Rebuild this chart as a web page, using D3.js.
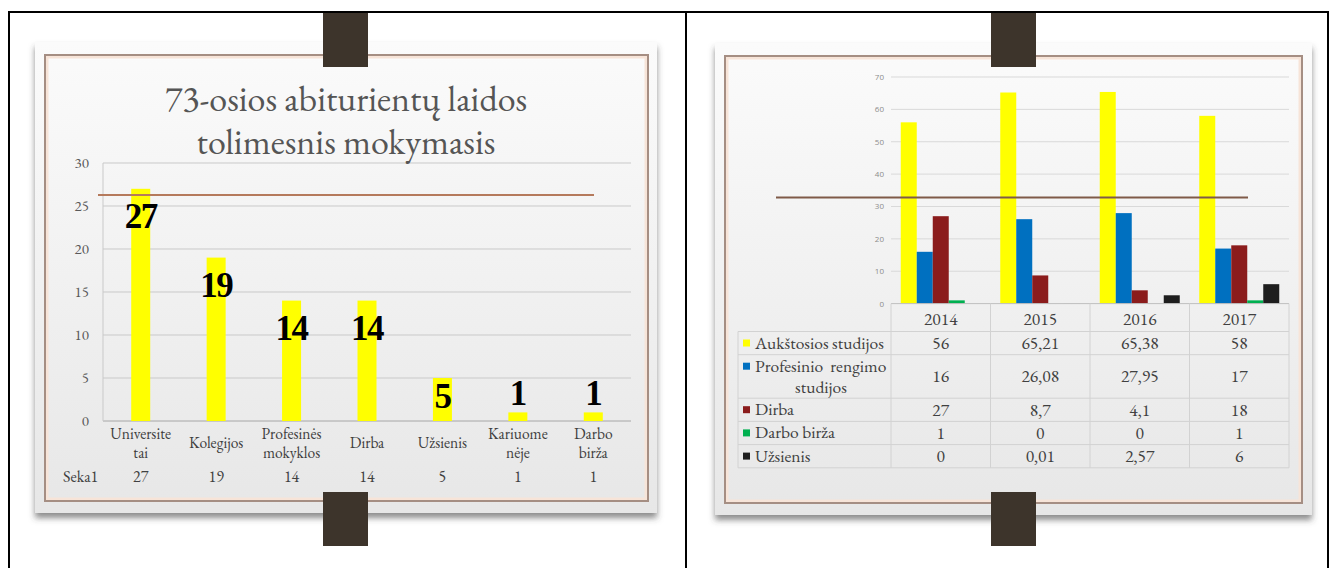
<!DOCTYPE html>
<html><head><meta charset="utf-8">
<script src="https://cdn.jsdelivr.net/npm/d3@7"></script>
<style>body{margin:0;background:#fff;} svg{display:block;}</style>
</head><body><svg id="c" width="1336" height="568"></svg>
<script>
// ---------- data ----------
const leftTitle = ["73-osios abiturientų laidos", "tolimesnis mokymasis"];
const leftCategories = ["Universitetai", "Kolegijos", "Profesinės mokyklos", "Dirba", "Užsienis", "Kariuomenėje", "Darbo birža"];
const leftCategoryLines = [["Universite", "tai"], ["Kolegijos"], ["Profesinės", "mokyklos"], ["Dirba"], ["Užsienis"], ["Kariuome", "nėje"], ["Darbo", "birža"]];
const leftValues = [27, 19, 14, 14, 5, 1, 1];
const leftSeriesName = "Seka1";
const leftTicks = [0, 5, 10, 15, 20, 25, 30];

const years = ["2014", "2015", "2016", "2017"];
const seriesNames = ["Aukštosios studijos", "Profesinio rengimo studijos", "Dirba", "Darbo birža", "Užsienis"];
const seriesLabelLines = [["Aukštosios studijos"], ["Profesinio  rengimo", "studijos"], ["Dirba"], ["Darbo birža"], ["Užsienis"]];
const aukstosios = [56, 65.21, 65.38, 58];
const profesinio = [16, 26.08, 27.95, 17];
const dirba = [27, 8.7, 4.1, 18];
const darboBirza = [1, 0, 0, 1];
const uzsienis = [0, 0.01, 2.57, 6];
const seriesColors = ["#ffff00", "#0070c0", "#8b1c1c", "#00b050", "#1e1e1e"];
const rightTicks = [0, 10, 20, 30, 40, 50, 60, 70];

const rightSeries = [aukstosios, profesinio, dirba, darboBirza, uzsienis];

// ---------- setup ----------
const GAR = '"EB Garamond", "Liberation Serif", serif';
const TIMES = '"Liberation Serif", "Tinos", serif';
const SANS = '"Open Sans", "DejaVu Sans", sans-serif';
const svg = d3.select("#c");
const defs = svg.append("defs");
const grad = defs.append("linearGradient").attr("id", "slideBg").attr("x1", 0).attr("y1", 0).attr("x2", 0).attr("y2", 1);
grad.append("stop").attr("offset", "0%").attr("stop-color", "#fbfbfb");
grad.append("stop").attr("offset", "100%").attr("stop-color", "#e7e7e7");
const f = defs.append("filter").attr("id", "shadow").attr("x", "-5%").attr("y", "-5%").attr("width", "110%").attr("height", "115%");
f.append("feDropShadow").attr("dx", 0).attr("dy", 5).attr("stdDeviation", 3).attr("flood-color", "#404040").attr("flood-opacity", 0.6);

// outer table borders
const border = svg.append("g").attr("stroke", "#000").attr("stroke-width", 2);
border.append("line").attr("x1", 8).attr("x2", 1329).attr("y1", 12).attr("y2", 12);
border.append("line").attr("x1", 9).attr("x2", 9).attr("y1", 11).attr("y2", 568);
border.append("line").attr("x1", 686).attr("x2", 686).attr("y1", 11).attr("y2", 568);
border.append("line").attr("x1", 1328).attr("x2", 1328).attr("y1", 11).attr("y2", 568);

function slide(bx, by, bw, bh, fx, fy, fw, fh) {
  svg.append("rect").attr("x", bx).attr("y", by).attr("width", bw).attr("height", bh)
    .attr("fill", "url(#slideBg)").attr("filter", "url(#shadow)");
  svg.append("rect").attr("x", fx + 2).attr("y", fy + 2).attr("width", fw - 4).attr("height", fh - 4)
    .attr("fill", "none").attr("stroke", "#f7e4d8").attr("stroke-width", 3);
  svg.append("rect").attr("x", fx).attr("y", fy).attr("width", fw).attr("height", fh)
    .attr("fill", "none").attr("stroke", "#a58e83").attr("stroke-width", 2);
}
slide(35, 42, 622, 471, 45, 55, 603, 446);
slide(715, 43, 597, 472, 725, 56, 577, 447);

// ---------- left chart ----------
const L = svg.append("g");
const yL = d3.scaleLinear().domain([0, 30]).range([421, 163]);
const xL = d3.scaleBand().domain(leftCategories).range([103, 631]).padding(0);

L.append("g").selectAll("line").data(leftTicks).join("line")
  .attr("x1", 103).attr("x2", 631).attr("y1", d => yL(d)).attr("y2", d => yL(d))
  .attr("stroke", d => d === 0 ? "#a6a6a6" : "#c9c9c9").attr("stroke-width", 1);
L.append("line").attr("x1", 103).attr("x2", 103).attr("y1", yL(30)).attr("y2", yL(0)).attr("stroke", "#c9c9c9");
L.append("g").selectAll("text").data(leftTicks).join("text")
  .attr("x", 89).attr("y", d => yL(d) + 5).attr("text-anchor", "end")
  .style("font-family", GAR).attr("font-size", 15).attr("fill", "#595959").text(d => d);

const bw = 19;
L.append("g").selectAll("rect").data(leftValues).join("rect")
  .attr("x", (d, i) => xL(leftCategories[i]) + xL.bandwidth() / 2 - bw / 2)
  .attr("y", d => yL(d)).attr("width", bw).attr("height", d => yL(0) - yL(d))
  .attr("fill", "#ffff00");

// decorative brown line (slide ornament)
L.append("line").attr("x1", 98).attr("x2", 594).attr("y1", 195).attr("y2", 195)
  .attr("stroke", "#b57a5c").attr("stroke-width", 2);

L.append("g").selectAll("text").data(leftValues).join("text")
  .attr("x", (d, i) => xL(leftCategories[i]) + xL.bandwidth() / 2)
  .attr("y", d => (yL(0) - yL(d)) < 30 ? yL(d) - 7 : Math.min(yL(d) + 39, yL(0) - 13))
  .attr("text-anchor", "middle").attr("font-weight", "bold").style("font-family", TIMES)
  .attr("font-size", 35).attr("fill", "#000").attr("letter-spacing", -1.5).text(d => d);

// title
L.append("g").selectAll("text").data(leftTitle).join("text")
  .attr("x", 346).attr("y", (d, i) => 111 + i * 43).attr("text-anchor", "middle")
  .style("font-family", GAR).attr("font-size", 36).attr("fill", "#555555").text(d => d);

// category labels
leftCategoryLines.forEach((lines, i) => {
  const cx = xL(leftCategories[i]) + xL.bandwidth() / 2;
  lines.forEach((t, j) => {
    L.append("text").attr("x", cx).attr("y", lines.length === 1 ? 448 : 439 + j * 19)
      .attr("text-anchor", "middle").style("font-family", GAR).attr("font-size", 15.5)
      .attr("fill", "#404040").text(t);
  });
});
L.append("text").attr("x", 63).attr("y", 482).style("font-family", GAR).attr("font-size", 16)
  .attr("fill", "#404040").text(leftSeriesName);
L.append("g").selectAll("text").data(leftValues).join("text")
  .attr("x", (d, i) => xL(leftCategories[i]) + xL.bandwidth() / 2).attr("y", 482)
  .attr("text-anchor", "middle").style("font-family", GAR).attr("font-size", 16)
  .attr("fill", "#404040").text(d => d);

// ---------- right chart ----------
const R = svg.append("g");
const yR = d3.scaleLinear().domain([0, 70]).range([303.6, 77]);
const xR = d3.scaleBand().domain(years).range([891, 1289]).padding(0);
const gw = 80;
const x1 = d3.scaleBand().domain(seriesNames)
  .range([(xR.bandwidth() - gw) / 2, (xR.bandwidth() + gw) / 2]).padding(0);

R.append("g").selectAll("line").data(rightTicks.filter(d => d > 0)).join("line")
  .attr("x1", 891).attr("x2", 1289).attr("y1", d => yR(d)).attr("y2", d => yR(d))
  .attr("stroke", "#d9d9d9");
R.append("g").selectAll("text").data(rightTicks).join("text")
  .attr("x", 884).attr("y", d => yR(d) + 3).attr("text-anchor", "end").style("font-family", SANS)
  .attr("font-size", 8).attr("fill", "#8c8c8c").text(d => d);

rightSeries.forEach((vals, s) => {
  R.append("g").selectAll("rect").data(vals).join("rect")
    .attr("x", (d, i) => xR(years[i]) + x1(seriesNames[s]))
    .attr("y", d => yR(d)).attr("width", x1.bandwidth()).attr("height", d => yR(0) - yR(d))
    .attr("fill", seriesColors[s]);
});

R.append("line").attr("x1", 776).attr("x2", 1248).attr("y1", 197.5).attr("y2", 197.5)
  .attr("stroke", "#7f5a48").attr("stroke-width", 2);

// data table
const headerTop = 303.6, headerBottom = 331.5;
const rowHeights = seriesLabelLines.map(l => l.length === 1 ? 23.2 : 43.5);
const rowTops = [];
let acc = headerBottom;
rowHeights.forEach(h => { rowTops.push(acc); acc += h; });
const tableBottom = acc;
const T = R.append("g");
const gridC = "#d2d2d2";
T.append("line").attr("x1", 891).attr("x2", 1289).attr("y1", headerTop).attr("y2", headerTop).attr("stroke", "#bfbfbf");
[headerBottom, ...rowTops.slice(1), tableBottom].forEach(y => {
  T.append("line").attr("x1", 738).attr("x2", 1289).attr("y1", y).attr("y2", y).attr("stroke", gridC);
});
T.append("line").attr("x1", 738).attr("x2", 738).attr("y1", headerBottom).attr("y2", tableBottom).attr("stroke", gridC);
years.concat(["end"]).forEach((yv, i) => {
  const x = i < years.length ? xR(yv) : 1289;
  T.append("line").attr("x1", x).attr("x2", x).attr("y1", headerTop).attr("y2", tableBottom).attr("stroke", gridC);
});
T.append("g").selectAll("text").data(years).join("text")
  .attr("x", d => xR(d) + xR.bandwidth() / 2).attr("y", headerTop + 21)
  .attr("text-anchor", "middle").style("font-family", GAR).attr("font-size", 17.5).attr("fill", "#404040").text(d => d);

const fmt = v => String(v).replace(".", ",");
rightSeries.forEach((vals, s) => {
  const top = rowTops[s], h = rowHeights[s];
  const lines = seriesLabelLines[s];
  T.append("rect").attr("x", 743).attr("y", top + 8).attr("width", 7).attr("height", 7).attr("fill", seriesColors[s]);
  lines.forEach((t, j) => {
    T.append("text")
      .attr("x", j === 0 ? 755 : 821).attr("text-anchor", j === 0 ? "start" : "middle")
      .attr("y", top + 17 + j * 21).style("font-family", GAR).attr("font-size", 17.5)
      .style("white-space", "pre").attr("fill", "#404040").text(t);
  });
  T.append("g").selectAll("text").data(vals).join("text")
    .attr("x", (d, i) => xR(years[i]) + xR.bandwidth() / 2).attr("y", top + h / 2 + 6)
    .attr("text-anchor", "middle").style("font-family", GAR).attr("font-size", 17.5)
    .attr("fill", "#404040").text(d => fmt(d));
});

// ---------- hanging tabs ----------
const tabs = [[323, 13], [323, 492], [991, 13], [991, 492]];
svg.append("g").selectAll("rect").data(tabs).join("rect")
  .attr("x", d => d[0]).attr("y", d => d[1]).attr("width", 45).attr("height", 54)
  .attr("fill", "#3d342b");
</script></body></html>
